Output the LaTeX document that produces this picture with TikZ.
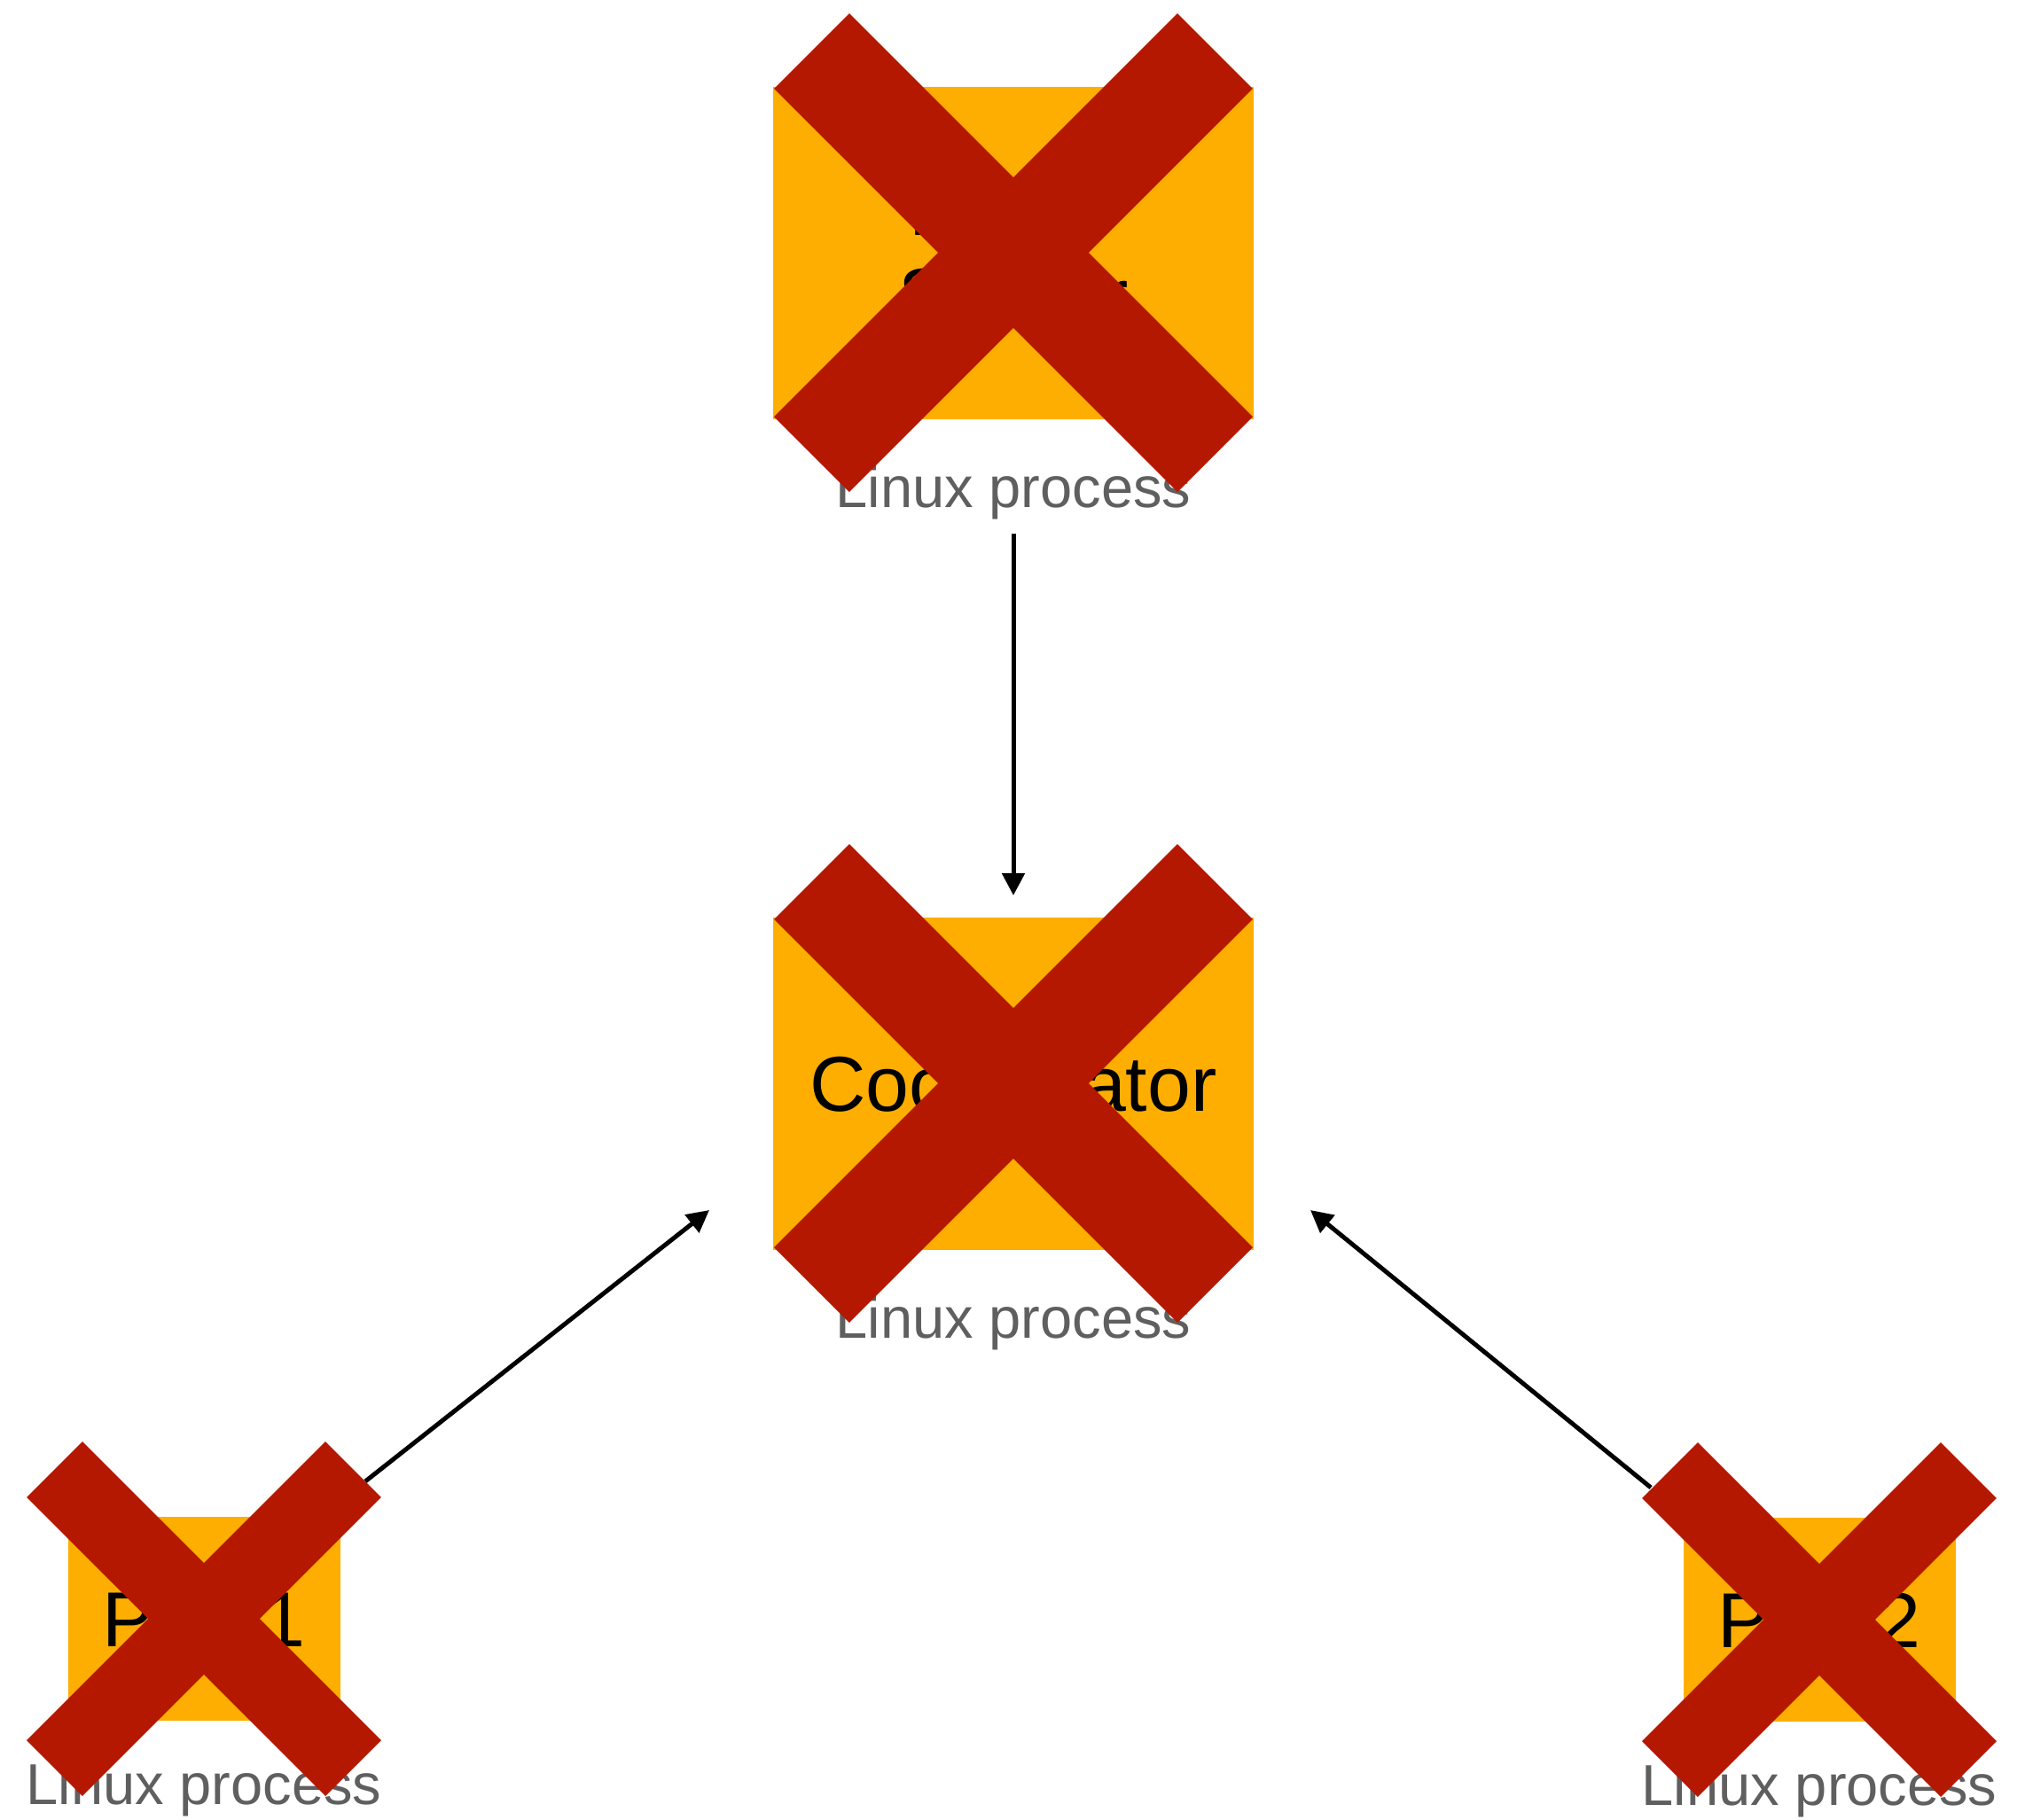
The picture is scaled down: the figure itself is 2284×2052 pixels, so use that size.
\documentclass[tikz,border=0pt]{standalone}
\usepackage{fontspec}
\setmainfont{Liberation Sans}
\usepackage{tikz}
\usetikzlibrary{shapes.misc, arrows.meta, positioning}
\definecolor{boxorange}{RGB}{254,174,0}
\definecolor{crossred}{RGB}{181,24,0}
\definecolor{captiongray}{RGB}{95,95,95}
\tikzstyle{procbox} = [rectangle, minimum width=54.2mm, minimum height=37.5mm, fill=boxorange, text=black, align=center, inner sep=0pt, outer sep=0pt, font=\fontsize{25}{28}\selectfont]
\tikzstyle{smallbox} = [procbox, minimum width=30.7mm, minimum height=23mm]
\tikzstyle{caption} = [anchor=base, inner sep=0pt, text=captiongray, font=\fontsize{18.5}{22}\selectfont]
\tikzstyle{crossbig} = [cross out, draw=crossred, line width=12mm, minimum size=45.5mm, inner sep=0pt, outer sep=0pt]
\tikzstyle{crosssmall} = [crossbig, line width=8.9mm, minimum size=33.7mm]
\tikzstyle{arrow} = [line width=0.5mm, -{Triangle[length=2.5mm, width=2.5mm]}]

\begin{document}
\begin{tikzpicture}[x=0.1mm, y=-0.1mm]
\useasboundingbox (0,0) rectangle (2284,2052);

% processes
\node (coord) [procbox] at (1143,1222) {Coordinator};
\node (names) [procbox, above=56.2mm of coord] {Name\\Server};
\node (pod1)  [smallbox] at (230,1826) {Pod 1};
\node (pod2)  [smallbox] at (2052,1827) {Pod 2};

% captions under the boxes
\node (cap-names) [below=10mm of names, caption] {Linux process};
\node (cap-coord) [below=10mm of coord, caption] {Linux process};
\node (cap-pod1)  [below=9.4mm of pod1, caption] {Linux process};
\node (cap-pod2)  [below=9.4mm of pod2, caption] {Linux process};

% connections to the coordinator
\draw [arrow, shorten <=1.5mm, shorten >=2.45mm] (cap-names.south) -- (coord.north);
\draw [arrow] ([shift={(2.85mm,4mm)}]pod1.north east) -- ([shift={(-7.2mm,4.45mm)}]coord.south west);
\draw [arrow] ([shift={(-3.65mm,3.4mm)}]pod2.north west) -- ([shift={(6.4mm,4.45mm)}]coord.south east);

% every process is down
\node (x-names) [crossbig] at (names) {};
\node (x-coord) [crossbig] at (coord) {};
\node (x-pod1)  [crosssmall] at (pod1) {};
\node (x-pod2)  [crosssmall] at (pod2) {};

\end{tikzpicture}
\end{document}
